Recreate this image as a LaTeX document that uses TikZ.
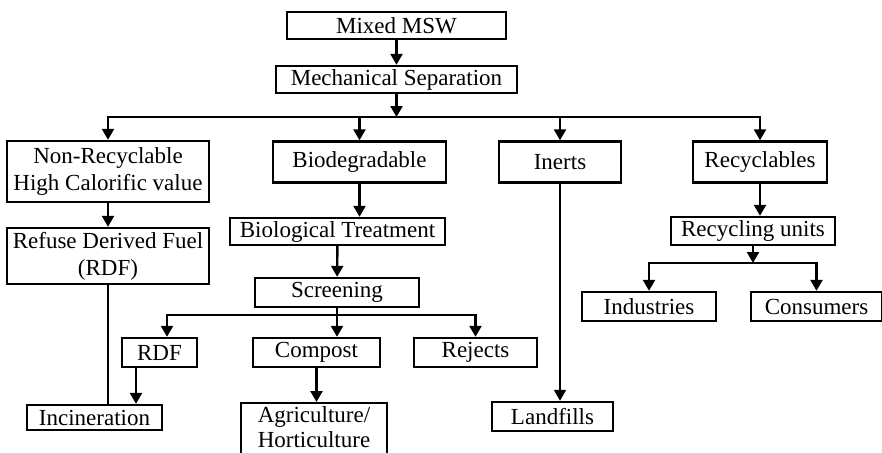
\documentclass[tikz,border=0pt]{standalone}
\usepackage{fontspec}
\setmainfont{Liberation Serif}
\usetikzlibrary{arrows.meta}

\begin{document}
\begin{tikzpicture}[x=1pt,y=-1pt,
    box/.style={draw,line width=2.4pt,inner sep=0pt,align=center,
      font=\fontsize{23}{27}\selectfont},
    arr/.style={-{Triangle[length=11pt,width=12pt]},line width=2.4pt},
    link/.style={line width=2.4pt},
    thinline/.style={line width=1.6pt},
    thinarr/.style={-{Triangle[length=11pt,width=12pt]},line width=1.6pt}]
  \useasboundingbox (0,0) rectangle (882,452);
  \clip (0,0) rectangle (882,452);

  % top of the chart
  \node[box,minimum width=219,minimum height=27] (msw) at (396.5,25.5) {Mixed MSW};
  \node[box,minimum width=241,minimum height=27] (mech) at (396.5,79.5) {Mechanical Separation};

  % four streams
  \node[box,minimum width=202,minimum height=61] (nonrec) at (108,171.5) {Non-Recyclable\\High Calorific value};
  \node[box,minimum width=173,minimum height=41] (biod) at (359.5,162) {Biodegradable};
  \node[box,minimum width=122,minimum height=41] (inerts) at (560,162) {Inerts};
  \node[box,minimum width=134,minimum height=41] (recy) at (760,162) {Recyclables};

  \node[box,minimum width=202,minimum height=56] (rdfuel) at (108,256) {Refuse Derived Fuel\\(RDF)};
  \node[box,minimum width=215,minimum height=27] (biotr) at (337.5,231.5) {Biological Treatment};
  \node[box,minimum width=164,minimum height=28] (runits) at (753,231) {Recycling units};
  \node[box,minimum width=164,minimum height=29] (screen) at (337,292.5) {Screening};
  \node[box,minimum width=134,minimum height=29] (indus) at (649,306.5) {Industries};
  \node[box,minimum width=131,minimum height=29] (cons) at (816.5,306.5) {Consumers};

  \node[box,minimum width=75,minimum height=29] (rdf) at (159.5,352.5) {RDF};
  \node[box,minimum width=127,minimum height=29] (compost) at (316.5,352.5) {Compost};
  \node[box,minimum width=123,minimum height=29] (rejects) at (475.5,352.5) {Rejects};

  % end points
  \node[box,minimum width=135,minimum height=25] (incin) at (94.5,417.5) {Incineration};
  \node[box,minimum width=146,minimum height=59,text depth=12pt,anchor=north,
    font=\fontsize{23}{25}\selectfont] (agri) at (314,402) {Agriculture/\\Horticulture};
  \node[box,minimum width=121,minimum height=29] (landf) at (552.5,416.5) {Landfills};

  % connectors
  \coordinate (sep) at (396.5,117);
  \coordinate (split) at (337,315);
  \coordinate (share) at (753,263);

  \draw[arr] (msw) -- (mech);
  \draw[arr] (mech) -- (sep);
  \foreach \n in {nonrec,biod,inerts,recy}
    \draw[arr] (sep) -| (\n);

  \draw[arr] (nonrec) -- (rdfuel);
  \draw[thinline] (rdfuel) -- (rdfuel |- incin.north);

  \draw[arr] (biod) -- (biod |- biotr.north);
  \draw[arr] (biotr) -- (screen);
  \draw[link] (screen) -- (split);
  \draw[arr] (split) -| ([xshift=7.5pt]rdf.north);
  \draw[arr] (split) -- (split |- compost.north);
  \draw[arr] (split) -| (rejects);
  \draw[arr] ([xshift=-23.5pt]rdf.south) -- ([xshift=-23.5pt]rdf.south |- incin.north);
  \draw[arr] (compost) -- (compost |- agri.north);

  \draw[thinarr] (inerts) -- (inerts |- landf.north);

  \draw[arr] (recy) -- (recy |- runits.north);
  \draw[arr] (runits) -- (share);
  \draw[arr] (share) -| (indus);
  \draw[arr] (share) -| (cons);
\end{tikzpicture}
\end{document}
